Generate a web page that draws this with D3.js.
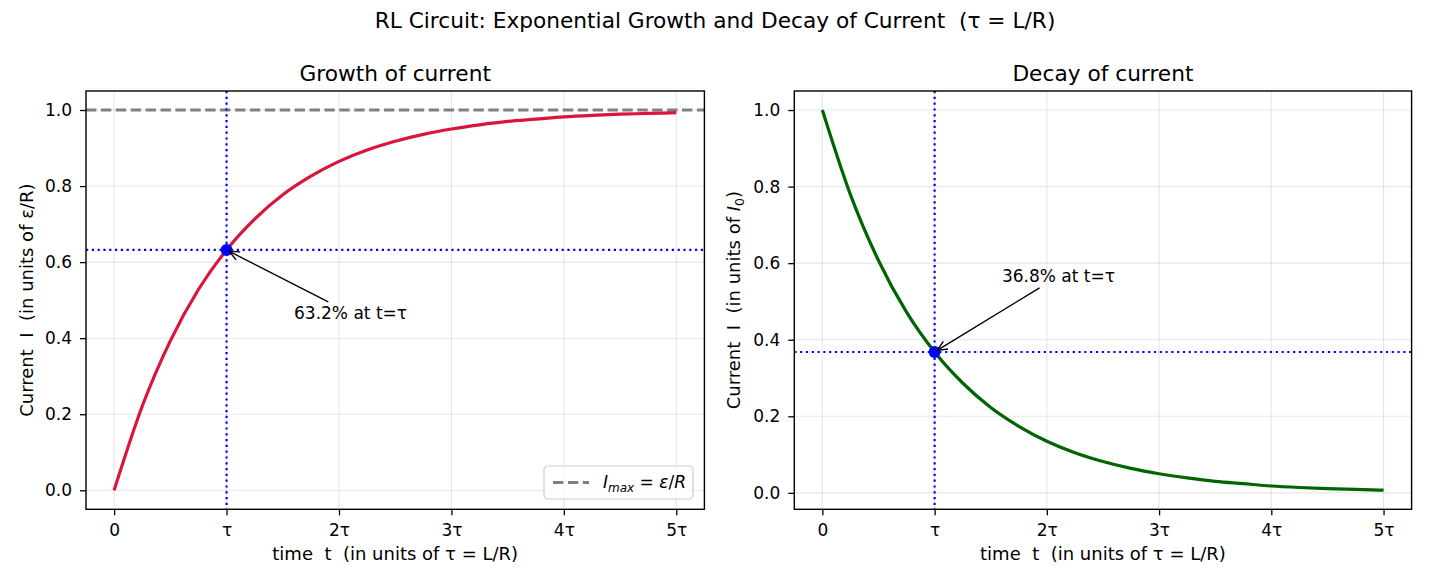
<!DOCTYPE html>
<html>
<head>
<meta charset="utf-8">
<script src="https://cdn.jsdelivr.net/npm/d3@7"></script>
<style>
  body { margin: 0; background: #fff; }
  svg { font-family: "DejaVu Sans", sans-serif; }
  text { white-space: pre; }
</style>
</head>
<body>
<svg id="fig" width="1430" height="585"></svg>
<script>
// time in units of tau
const tValues = [0, 0.25, 0.5, 0.75, 1, 1.25, 1.5, 1.75, 2, 2.25, 2.5, 2.75, 3, 3.25, 3.5, 3.75, 4, 4.25, 4.5, 4.75, 5];
// growth of current (units of eps/R)
const growthValues = [0, 0.221, 0.393, 0.528, 0.632, 0.713, 0.777, 0.826, 0.865, 0.895, 0.918, 0.936, 0.950, 0.961, 0.970, 0.976, 0.982, 0.986, 0.989, 0.991, 0.993];
// decay of current (units of I0)
const decayValues = [1, 0.779, 0.607, 0.472, 0.368, 0.287, 0.223, 0.174, 0.135, 0.105, 0.082, 0.064, 0.050, 0.039, 0.030, 0.024, 0.018, 0.014, 0.011, 0.009, 0.007];
const xTicks = [0, 1, 2, 3, 4, 5];
const xTickLabels = ["0", "τ", "2τ", "3τ", "4τ", "5τ"];
const yTicks = [0, 0.2, 0.4, 0.6, 0.8, 1.0];
const growthMark = {t: 1, v: 0.632, label: "63.2% at t=τ", tx: 1.6, ty: 0.45};
const decayMark = {t: 1, v: 0.368, label: "36.8% at t=τ", tx: 1.6, ty: 0.55};
const iMax = 1.0;

const svg = d3.select("#fig");
const TICK_FS = 17;
const LABEL_FS = 18;
const TITLE_FS = 21.7;

svg.append("text")
	.attr("x", 715).attr("y", 28)
	.attr("text-anchor", "middle")
	.style("font-size", TITLE_FS + "px")
	.text("RL Circuit: Exponential Growth and Decay of Current  (τ = L/R)");

function makePanel(opts) {
	const x = d3.scaleLinear().domain([-0.25, 5.25]).range([opts.left, opts.right]);
	const y = d3.scaleLinear().domain(opts.ydomain).range([509.3, 91]);
	const g = svg.append("g");
	const top = 91, bottom = 509.3;

	// grid
	g.append("g").selectAll("line").data(xTicks).enter().append("line")
		.attr("x1", d => x(d)).attr("x2", d => x(d))
		.attr("y1", top).attr("y2", bottom)
		.attr("stroke", "#b0b0b0").attr("stroke-opacity", 0.3).attr("stroke-width", 1.1);
	g.append("g").selectAll("line").data(yTicks).enter().append("line")
		.attr("x1", opts.left).attr("x2", opts.right)
		.attr("y1", d => y(d)).attr("y2", d => y(d))
		.attr("stroke", "#b0b0b0").attr("stroke-opacity", 0.3).attr("stroke-width", 1.1);

	// clip
	const clipId = "clip" + opts.id;
	svg.append("clipPath").attr("id", clipId).append("rect")
		.attr("x", opts.left).attr("y", top)
		.attr("width", opts.right - opts.left).attr("height", bottom - top);
	const plot = g.append("g").attr("clip-path", "url(#" + clipId + ")");

	if (opts.hline !== undefined) {
		plot.append("line")
			.attr("x1", opts.left).attr("x2", opts.right)
			.attr("y1", y(opts.hline)).attr("y2", y(opts.hline))
			.attr("stroke", "gray").attr("stroke-width", 2.8)
			.attr("stroke-dasharray", "10.4,4.5");
	}

	const line = d3.line()
		.x((d, i) => x(tValues[i]))
		.y(d => y(d))
		.curve(d3.curveMonotoneX);
	plot.append("path")
		.datum(opts.values)
		.attr("d", line)
		.attr("fill", "none")
		.attr("stroke", opts.color)
		.attr("stroke-width", 3.2);

	// dotted markers
	plot.append("line")
		.attr("x1", x(opts.mark.t)).attr("x2", x(opts.mark.t))
		.attr("y1", top).attr("y2", bottom)
		.attr("stroke", "blue").attr("stroke-width", 2.2).attr("stroke-dasharray", "2.2,3.6");
	plot.append("line")
		.attr("x1", opts.left).attr("x2", opts.right)
		.attr("y1", y(opts.mark.v)).attr("y2", y(opts.mark.v))
		.attr("stroke", "blue").attr("stroke-width", 2.2).attr("stroke-dasharray", "2.2,3.6");
	plot.append("circle")
		.attr("cx", x(opts.mark.t)).attr("cy", y(opts.mark.v))
		.attr("r", 6).attr("fill", "blue");

	// axes
	const xAxis = d3.axisBottom(x).tickValues(xTicks)
		.tickFormat((d, i) => xTickLabels[i]).tickSize(6).tickPadding(8);
	const gx = g.append("g").attr("transform", "translate(0," + bottom + ")").call(xAxis);
	const yAxis = d3.axisLeft(y).tickValues(yTicks)
		.tickFormat(d3.format(".1f")).tickSize(6).tickPadding(8);
	const gy = g.append("g").attr("transform", "translate(" + opts.left + ",0)").call(yAxis);
	[gx, gy].forEach(a => {
		a.select(".domain").remove();
		a.selectAll(".tick line").attr("stroke", "#000").attr("stroke-width", 1.3);
		a.selectAll(".tick text").style("font-size", TICK_FS + "px")
			.style("font-family", "DejaVu Sans").attr("fill", "#000");
	});
	gx.selectAll(".tick text").attr("dy", "0.75em");

	// frame
	g.append("rect")
		.attr("x", opts.left).attr("y", top)
		.attr("width", opts.right - opts.left).attr("height", bottom - top)
		.attr("fill", "none").attr("stroke", "#000").attr("stroke-width", 1.4);

	// titles and labels
	g.append("text")
		.attr("x", (opts.left + opts.right) / 2).attr("y", 81)
		.attr("text-anchor", "middle").style("font-size", TITLE_FS + "px")
		.text(opts.title);
	g.append("text")
		.attr("x", (opts.left + opts.right) / 2).attr("y", 560)
		.attr("text-anchor", "middle").style("font-size", LABEL_FS + "px")
		.text("time  t  (in units of τ = L/R)");
	const yl = g.append("text")
		.attr("transform", "translate(" + opts.ylabelX + "," + ((top + bottom) / 2) + ") rotate(-90)")
		.attr("text-anchor", "middle").style("font-size", LABEL_FS + "px");
	opts.ylabel(yl);

	// annotation
	const ann = g.append("text")
		.attr("x", x(opts.mark.tx)).attr("y", y(opts.mark.ty))
		.style("font-size", TICK_FS + "px")
		.text(opts.mark.label);
	const bb = ann.node().getBBox();
	const cx = bb.x + bb.width / 2, cy = bb.y + bb.height / 2;
	const px = x(opts.mark.t), py = y(opts.mark.v);
	const dx = px - cx, dy = py - cy;
	const s = Math.min(Math.abs((bb.width / 2) / dx), Math.abs((bb.height / 2) / dy));
	let sx = cx + dx * s, sy = cy + dy * s;
	const len = Math.hypot(px - sx, py - sy);
	const ux = (px - sx) / len, uy = (py - sy) / len;
	sx += ux * 3; sy += uy * 3;
	const ex = px - ux * 3, ey = py - uy * 3;
	g.append("line")
		.attr("x1", sx).attr("y1", sy).attr("x2", ex).attr("y2", ey)
		.attr("stroke", "#000").attr("stroke-width", 1.4);
	const ah = 10, aw = 0.45;
	const bx = ex - ux * ah, by = ey - uy * ah;
	g.append("path")
		.attr("d", "M" + (bx - uy * ah * aw) + "," + (by + ux * ah * aw) +
			"L" + ex + "," + ey +
			"L" + (bx + uy * ah * aw) + "," + (by - ux * ah * aw))
		.attr("fill", "none").attr("stroke", "#000").attr("stroke-width", 1.4);
	return {g, x, y};
}

const left = makePanel({
	id: "L", left: 86, right: 704.4, ydomain: [-0.05, 1.05],
	values: growthValues, color: "crimson", title: "Growth of current",
	hline: iMax, mark: growthMark, ylabelX: 33,
	ylabel: t => t.text("Current  I  (in units of ε/R)")
});

const right = makePanel({
	id: "R", left: 794.3, right: 1411.6, ydomain: [-0.0429, 1.0497],
	values: decayValues, color: "darkgreen", title: "Decay of current",
	mark: decayMark, ylabelX: 740,
	ylabel: t => {
		t.append("tspan").text("Current  I  (in units of ");
		t.append("tspan").style("font-style", "italic").text("I");
		t.append("tspan").attr("dy", 4).style("font-size", "12.5px").text("0");
		t.append("tspan").attr("dy", -4).text(")");
	}
});

// legend in the growth panel
const lg = left.g.append("g").attr("transform", "translate(544,466)");
lg.append("rect").attr("width", 149).attr("height", 33).attr("rx", 4)
	.attr("fill", "#fff").attr("fill-opacity", 0.8)
	.attr("stroke", "#cccccc").attr("stroke-width", 1.2);
lg.append("line").attr("x1", 9).attr("x2", 45).attr("y1", 16.5).attr("y2", 16.5)
	.attr("stroke", "gray").attr("stroke-width", 2.8).attr("stroke-dasharray", "10.4,4.5");
const lt = lg.append("text").attr("x", 59).attr("y", 22).style("font-size", TICK_FS + "px");
lt.append("tspan").style("font-style", "italic").text("I");
lt.append("tspan").attr("dy", 4).style("font-style", "italic").style("font-size", "12px").text("max");
lt.append("tspan").attr("dy", -4).text(" = ");
lt.append("tspan").style("font-style", "italic").text("ε");
lt.append("tspan").text("/");
lt.append("tspan").style("font-style", "italic").text("R");
</script>
</body>
</html>
